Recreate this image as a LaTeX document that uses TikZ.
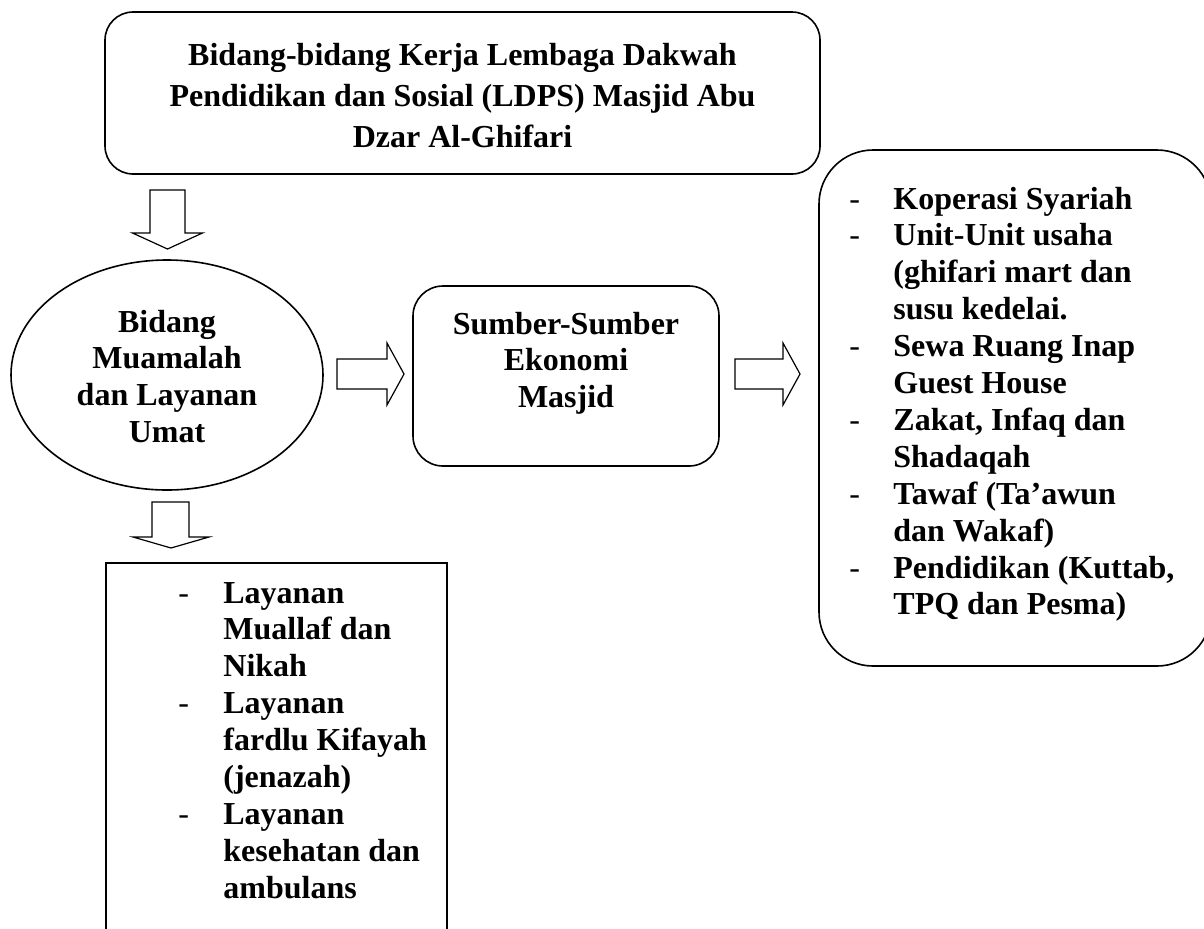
\documentclass[tikz,border=0pt]{standalone}
\usepackage{fontspec}
\setmainfont{Liberation Serif}
\usetikzlibrary{calc,positioning,shapes.geometric}

\tikzset{
  box/.style={draw, line width=0.8pt, inner sep=0pt},
  rbox/.style={box, rounded corners=#1},
  txt/.style={inner sep=0pt, anchor=base, font=\fontsize{16}{18.45}\selectfont\bfseries},
  blk/.style={draw, line width=0.6pt, line join=miter},
}

\begin{document}
\begin{tikzpicture}[x=0.5pt,y=-0.5pt]
  \clip (0,0) rectangle (1204,928);
  \fill[white] (0,0) rectangle (1204,928);
  % the five boxes
  \node[rbox=14pt, minimum width=357.5pt, minimum height=81pt] (lembaga) at (462.5,93) {};
  \node[box, ellipse, minimum width=156pt, minimum height=115pt] (muamalah) at (167,375) {};
  \node[rbox=15pt, minimum width=153pt, minimum height=90pt] (sumber) at (566,376) {};
  \node[rbox=27pt, minimum width=196pt, minimum height=258pt] (daftar) at (1015,408) {};
  \node[box, minimum width=170.5pt, minimum height=200pt] (layanan) at (276.5,763) {};
  % texts
  \node[txt, font=\fontsize{16}{20.5}\selectfont\bfseries] (lembagatxt) at (462.5,65)
    {\begin{tabular}[t]{@{}c@{}}Bidang-bidang Kerja Lembaga Dakwah\\
      Pendidikan dan Sosial (LDPS) Masjid Abu\\ Dzar Al-Ghifari\end{tabular}};
  \node[txt] (muamalahtxt) at (167,332)
    {\begin{tabular}[t]{@{}c@{}}Bidang\\ Muamalah\\ dan Layanan\\ Umat\end{tabular}};
  \node[txt] (sumbertxt) at (566,334)
    {\begin{tabular}[t]{@{}c@{}}Sumber-Sumber\\ Ekonomi\\ Masjid\end{tabular}};
  \node[txt, anchor=base west] (daftartxt) at (849,209)
    {\begin{tabular}[t]{@{}p{22pt}@{}l@{}}
      {\mdseries -} & Koperasi Syariah\\
      {\mdseries -} & Unit-Unit usaha\\
                    & (ghifari mart dan\\
                    & susu kedelai.\\
      {\mdseries -} & Sewa Ruang Inap\\
                    & Guest House\\
      {\mdseries -} & Zakat, Infaq dan\\
                    & Shadaqah\\
      {\mdseries -} & Tawaf (Ta’awun\\
                    & dan Wakaf)\\
      {\mdseries -} & Pendidikan (Kuttab,\\
                    & TPQ dan Pesma)
    \end{tabular}};
  \node[txt, anchor=base west] (layanantxt) at (178,603)
    {\begin{tabular}[t]{@{}p{22.5pt}@{}l@{}}
      {\mdseries -} & Layanan\\
                    & Muallaf dan\\
                    & Nikah\\
      {\mdseries -} & Layanan\\
                    & fardlu Kifayah\\
                    & (jenazah)\\
      {\mdseries -} & Layanan\\
                    & kesehatan dan\\
                    & ambulans
    \end{tabular}};
  % block arrows
  \coordinate (p1) at ($(muamalah.north)!0.5!(muamalah.north |- lembaga.south)$);
  \coordinate (p2) at ($(muamalah.south)!0.5!(muamalah.south |- layanan.north)$);
  \coordinate (q1) at ($(muamalah.east)!0.5!(sumber.west)$);
  \coordinate (q2) at ($(sumber.east)!0.5!(sumber.east -| daftar.west)$);
  \draw[blk] (p1) ++(-17,-27) -- ++(35,0) -- ++(0,43) -- ++(17.5,0)
    -- ++(-35,16) -- ++(-35,-16) -- ++(17.5,0) -- cycle;
  \draw[blk] (p2) ++(-15,-24.5) -- ++(37,0) -- ++(0,35) -- ++(20,0)
    -- ++(-38,11) -- ++(-38,-11) -- ++(19,0) -- cycle;
  \draw[blk] (q1) ++(-31,-16.5) -- ++(50,0) -- ++(0,-16) -- ++(17,31)
    -- ++(-17,31) -- ++(0,-16) -- ++(-50,0) -- cycle;
  \draw[blk] (q2) ++(-34,-17) -- ++(48,0) -- ++(0,-16) -- ++(17,31)
    -- ++(-17,31) -- ++(0,-16) -- ++(-48,0) -- cycle;
\end{tikzpicture}
\end{document}
